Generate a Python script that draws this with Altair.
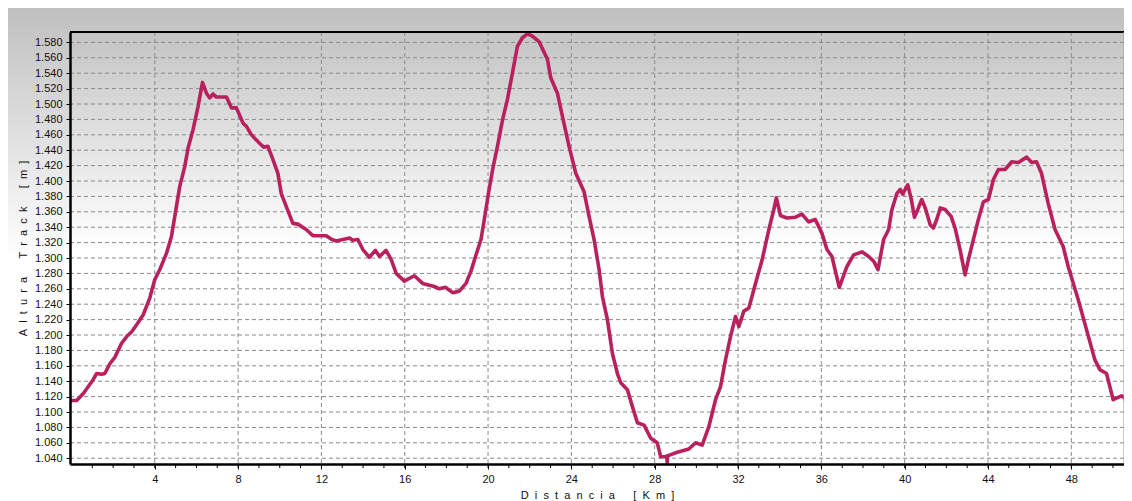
import altair as alt
import pandas as pd

km = [0.0, 0.25, 0.57, 1.04, 1.21, 1.45, 1.6, 1.85, 2.08, 2.4, 2.65, 2.88, 3.12, 3.44, 3.76,
      4.0, 4.24, 4.56, 4.8, 5.04, 5.2, 5.44, 5.6, 5.84, 6.08, 6.29, 6.48, 6.64, 6.8, 6.96,
      7.44, 7.68, 7.92, 8.24, 8.4, 8.64, 9.03, 9.23, 9.43, 9.67, 9.91, 10.07, 10.31, 10.63,
      10.87, 11.27, 11.59, 12.23, 12.5, 12.71, 13.03, 13.35, 13.5, 13.75, 13.99, 14.3, 14.59,
      14.79, 15.1, 15.35, 15.59, 15.98, 16.46, 16.86, 17.42, 17.66, 17.95, 18.3, 18.62, 18.94,
      19.18, 19.42, 19.66, 19.82, 20.02, 20.22, 20.45, 20.7, 20.93, 21.17, 21.41, 21.65, 21.89,
      22.13, 22.45, 22.85, 23.01, 23.33, 23.57, 23.89, 24.21, 24.61, 24.85, 25.09, 25.33,
      25.49, 25.73, 25.97, 26.21, 26.37, 26.69, 26.93, 27.17, 27.49, 27.81, 28.12, 28.29,
      28.53, 28.58, 28.6, 28.62, 29.0, 29.64, 29.96, 30.28, 30.6, 30.92, 31.16, 31.4, 31.64,
      31.88, 32.04, 32.28, 32.52, 32.84, 33.16, 33.48, 33.72, 33.84, 34.04, 34.35, 34.76,
      35.07, 35.39, 35.71, 36.03, 36.27, 36.51, 36.7, 36.86, 37.23, 37.55, 37.95, 38.27,
      38.51, 38.72, 38.99, 39.23, 39.39, 39.63, 39.79, 39.9, 40.15, 40.32, 40.47, 40.66,
      40.82, 40.99, 41.23, 41.38, 41.54, 41.71, 41.94, 42.23, 42.42, 42.66, 42.9, 43.06,
      43.3, 43.51, 43.78, 44.02, 44.26, 44.5, 44.82, 45.14, 45.46, 45.86, 46.1, 46.33,
      46.57, 46.89, 47.22, 47.61, 47.85, 48.33, 48.73, 49.13, 49.37, 49.69, 50.01, 50.41,
      50.57, 50.76]
alt_m = [1115, 1115, 1124, 1142, 1150, 1149, 1150, 1163, 1171, 1189, 1198, 1204, 1213, 1226, 1248,
         1272, 1285, 1306, 1328, 1367, 1393, 1419, 1443, 1467, 1497, 1528, 1514, 1508, 1513, 1509,
         1509, 1495, 1495, 1475, 1471, 1460, 1449, 1444, 1445, 1428, 1410, 1384, 1367, 1345,
         1344, 1337, 1329, 1329, 1324, 1322, 1324, 1326, 1323, 1324, 1311, 1301, 1310,
         1302, 1310, 1298, 1280, 1270, 1277, 1267, 1263, 1260, 1262, 1255, 1257, 1267,
         1283, 1304, 1324, 1350, 1384, 1415, 1445, 1480, 1506, 1540, 1575, 1586, 1591,
         1588, 1581, 1558, 1534, 1514, 1484, 1445, 1410, 1386, 1354, 1324, 1285,
         1250, 1220, 1176, 1150, 1138, 1129, 1107, 1086, 1083, 1066, 1060, 1042,
         1042, 1043, 1034, 1043, 1047, 1052, 1060, 1057, 1081, 1116, 1133, 1168, 1198,
         1224, 1211, 1231, 1235, 1267, 1298, 1337, 1363, 1378, 1355, 1352, 1353,
         1357, 1347, 1350, 1332, 1311, 1302, 1280, 1262, 1289, 1304, 1308, 1302,
         1296, 1285, 1324, 1337, 1363, 1384, 1389, 1383, 1395, 1376, 1353, 1365,
         1376, 1365, 1343, 1339, 1350, 1365, 1363, 1354, 1339, 1311, 1278, 1298,
         1324, 1347, 1373, 1376, 1402, 1415, 1415, 1425, 1424, 1431, 1424, 1425,
         1410, 1371, 1337, 1315, 1289, 1246, 1207, 1168, 1155, 1150, 1116, 1121,
         1118, 1098]

x_major_ticks = [4, 8, 12, 16, 20, 24, 28, 32, 36, 40, 44, 48]
x_minor_ticks = list(range(1, 51))
y_ticks = [1040, 1060, 1080, 1100, 1120, 1140, 1160, 1180, 1200, 1220, 1240, 1260, 1280, 1300,
           1320, 1340, 1360, 1380, 1400, 1420, 1440, 1460, 1480, 1500, 1520, 1540, 1560, 1580]

x_title = "D i s t a n c i a   [ K m ]"
y_title = "A l t u r a   T r a c k   [ m ]"


def spaced(s):
    # keep the wide letter spacing of the original (non-collapsing spaces)
    return s.replace("   ", "\u00a0" * 6).replace(" ", "\u00a0\u00a0")


W, H = 1054, 432
FONT = "Liberation Sans"

profile = pd.DataFrame({"km": km, "alt": alt_m})
xgrid = pd.DataFrame({"km": x_major_ticks})
xminor = pd.DataFrame({"km": x_minor_ticks})
ygrid = pd.DataFrame({"alt": y_ticks})

xscale = alt.Scale(domain=[-0.07, 50.53], nice=False, zero=False)
yscale = alt.Scale(domain=[1032.5, 1593.5], nice=False, zero=False)

x_axis = alt.Axis(values=x_major_ticks, title=spaced(x_title), grid=False,
                  domainColor="#000000", domainWidth=2.5, tickColor="#000000",
                  tickSize=5, labelPadding=4, titlePadding=5,
                  labelFont=FONT, labelFontSize=11, labelColor="#111111",
                  titleFont=FONT, titleFontSize=11, titleFontWeight="normal",
                  titleColor="#111111", zindex=3, format="d")
y_axis = alt.Axis(values=y_ticks, title=spaced(y_title), grid=False,
                  domainColor="#000000", domainWidth=2.5, tickColor="#000000",
                  tickSize=4, labelPadding=4, titlePadding=6,
                  labelExpr="replace(format(datum.value, ','), ',', '.')",
                  labelFont=FONT, labelFontSize=11, labelColor="#111111",
                  titleFont=FONT, titleFontSize=11, titleFontWeight="normal",
                  titleColor="#111111", zindex=3)

one = alt.Data(values=[{"a": 1}])

outer_bg = alt.Chart(one).mark_rect(
    fill=alt.LinearGradient(
        gradient="linear", x1=0, x2=0, y1=0, y2=1,
        stops=[alt.GradientStop(color="#bfbfbf", offset=0),
               alt.GradientStop(color="#ffffff", offset=0.5),
               alt.GradientStop(color="#ffffff", offset=1)]),
).encode(x=alt.value(-70), x2=alt.value(W + 10), y=alt.value(-26), y2=alt.value(H + 50))

plot_bg = alt.Chart(one).mark_rect(
    fill=alt.LinearGradient(
        gradient="linear", x1=0, x2=0, y1=0, y2=1,
        stops=[alt.GradientStop(color="#c4c4c4", offset=0),
               alt.GradientStop(color="#ffffff", offset=0.5),
               alt.GradientStop(color="#ffffff", offset=1)]),
).encode(x=alt.value(0), x2=alt.value(W), y=alt.value(0), y2=alt.value(H))

vgrid = alt.Chart(xgrid).mark_rule(color="#8a8a8a", strokeWidth=1, strokeDash=[4, 3]).encode(
    x=alt.X("km:Q", scale=xscale, axis=x_axis), y=alt.value(0), y2=alt.value(H))

hgrid = alt.Chart(ygrid).mark_rule(color="#8a8a8a", strokeWidth=1, strokeDash=[4, 3]).encode(
    y=alt.Y("alt:Q", scale=yscale, axis=y_axis), x=alt.value(0), x2=alt.value(W))

minor = alt.Chart(xminor).mark_rule(color="#000000", strokeWidth=1).encode(
    x=alt.X("km:Q", scale=xscale, axis=x_axis), y=alt.value(H), y2=alt.value(H + 4))

line = alt.Chart(profile).mark_line(
    color="#b8215e", strokeWidth=3.6, strokeJoin="round", strokeCap="round", clip=True
).encode(
    x=alt.X("km:Q", scale=xscale, axis=x_axis),
    y=alt.Y("alt:Q", scale=yscale, axis=y_axis),
    order=alt.Order("km:Q"),
)

top_border = alt.Chart(one).mark_rule(color="#000000", strokeWidth=2).encode(
    x=alt.value(0), x2=alt.value(W), y=alt.value(0))
right_border = alt.Chart(one).mark_rule(color="#9a9a9a", strokeWidth=1).encode(
    x=alt.value(W), y=alt.value(0), y2=alt.value(H))

chart = alt.layer(
    outer_bg, plot_bg, vgrid, hgrid, minor, line, top_border, right_border
).properties(
    width=W, height=H,
    padding={"left": 62, "top": 24, "right": 0, "bottom": 40},
    autosize=alt.AutoSizeParams(type="none"),
    background="#ffffff",
).configure_view(stroke=None)

chart.save("out.html", embed_options={"renderer": "svg", "actions": False})
